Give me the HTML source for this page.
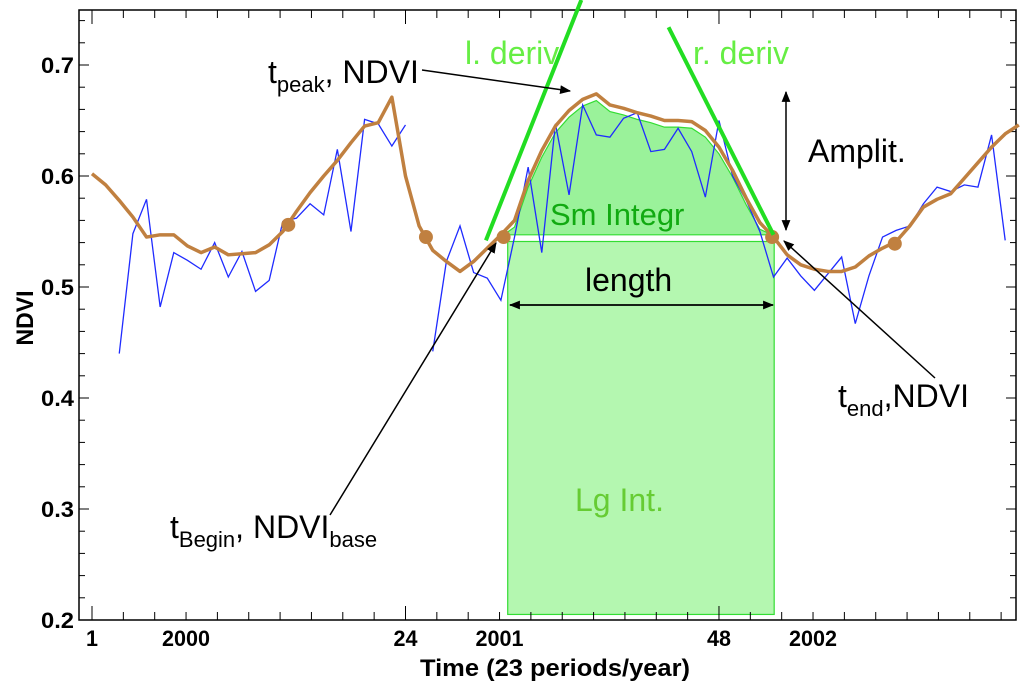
<!DOCTYPE html>
<html><head><meta charset="utf-8">
<style>
html,body{margin:0;padding:0;background:#fff;}
svg{display:block;font-family:"Liberation Sans",Arial,sans-serif;}
</style></head>
<body>
<svg id="chart" width="1024" height="689" viewBox="0 0 1024 689" xmlns="http://www.w3.org/2000/svg">
<g id="fills"></g>
<g id="axes"></g>
<g id="series"></g>
<g id="annot"></g>
</svg>
<script>
const periods = [];
for (let i = 1; i <= 69; i++) periods.push(i);
const rawNdvi = [0.645,null,0.44,0.548,0.579,0.482,0.531,0.524,0.516,0.540,0.509,0.532,0.496,0.506,0.559,0.562,0.575,0.565,0.624,0.550,0.651,0.647,0.627,0.646,null,0.442,0.523,0.555,0.513,0.508,0.488,0.545,0.608,0.531,0.647,0.583,0.664,0.637,0.635,0.652,0.657,0.622,0.624,0.643,0.622,0.581,0.650,0.600,0.578,0.550,0.509,0.526,0.510,0.497,0.512,0.527,0.467,0.510,0.545,0.551,0.555,0.575,0.590,0.586,0.592,0.590,0.637,0.542,null];
const smoothNdvi = [0.602,0.592,0.578,0.563,0.545,0.547,0.547,0.537,0.531,0.536,0.529,0.530,0.531,0.538,0.550,0.568,0.585,0.600,0.614,0.630,0.645,0.648,0.671,0.600,0.555,0.533,0.523,0.514,0.523,0.535,0.547,0.560,0.596,0.623,0.645,0.659,0.669,0.674,0.664,0.661,0.657,0.654,0.650,0.650,0.649,0.641,0.626,0.605,0.580,0.558,0.545,0.529,0.520,0.516,0.514,0.514,0.518,0.528,0.535,0.541,0.555,0.572,0.579,0.584,0.598,0.612,0.626,0.638,0.646];
const markerT = [15.4, 25.5, 31.2, 50.9, 59.9];
const markerV = [0.556, 0.545, 0.545, 0.545, 0.539];
const seasonStart = 31.2, seasonEnd = 50.9, baseLevel = 0.547, lgBase = 0.541, lgBottom = 0.205;
const yTicks = [0.2,0.3,0.4,0.5,0.6,0.7];
const xTickLabels = ["1","2000","24","2001","48","2002"];
const xTickLabelIdx = [0,3,10,13,20,23];

const L=79,R=1016,T=10,B=620;
function x(t){return 92+(t-1)*13.63;}
function y(v){return 65+(0.7-v)*1110;}
const NS="http://www.w3.org/2000/svg";
function mk(tag,attrs,parent,text){const e=document.createElementNS(NS,tag);for(const k in attrs)e.setAttribute(k,attrs[k]);if(text!==undefined)e.textContent=text;parent.appendChild(e);return e;}
const axes=document.getElementById('axes'),fills=document.getElementById('fills'),series=document.getElementById('series'),annot=document.getElementById('annot');

let lg=mk('rect',{x:x(seasonStart+0.3),y:y(lgBase),width:x(seasonEnd+0.15)-x(seasonStart+0.3),height:y(lgBottom)-y(lgBase),fill:'#b4f7b0',stroke:'#33dd33','stroke-width':1.2},fills);


let pts=[[x(seasonStart),y(baseLevel)]];
for(let i=0;i<periods.length;i++){const t=periods[i];if(t>seasonStart&&t<seasonEnd)pts.push([x(t),y(smoothNdvi[i]-0.006)]);}
pts.push([x(seasonEnd),y(baseLevel)]);
let sm=mk('polygon',{points:pts.map(p=>p.join(',')).join(' '),fill:'#9af29a',stroke:'#33dd33','stroke-width':1.2},fills);



mk('rect',{x:L,y:T,width:R-L,height:B-T,fill:'none',stroke:'#000','stroke-width':1.5},axes);
for(let v=0.2;v<=0.751;v+=0.02){const yy=y(v);const major=Math.abs(v*10-Math.round(v*10))<0.01;const len=major?10:6;
 mk('line',{x1:L,x2:L+len,y1:yy,y2:yy,stroke:'#000','stroke-width':1},axes);
 mk('line',{x1:R,x2:R-len,y1:yy,y2:yy,stroke:'#000','stroke-width':1},axes);}
for(let i=0;i<30;i++){const xx=x(1+i*2.3);if(xx>R)break;const len=(i%10===0)?14:8;
 mk('line',{x1:xx,x2:xx,y1:B,y2:B-len,stroke:'#000','stroke-width':1},axes);
 mk('line',{x1:xx,x2:xx,y1:T,y2:T+len,stroke:'#000','stroke-width':1},axes);}
yTicks.forEach(v=>{const e=mk('text',{x:74,y:y(v)+8,'text-anchor':'end','font-size':22,'font-weight':'bold',textLength:33,lengthAdjust:'spacingAndGlyphs'},axes,v.toFixed(1));
 
 });
xTickLabels.forEach((s,i)=>{const w=s.length*12;const e=mk('text',{x:x(1+xTickLabelIdx[i]*2.3),y:646,'text-anchor':'middle','font-size':22,'font-weight':'bold',textLength:w,lengthAdjust:'spacingAndGlyphs'},axes,s);
 
 });
let xt=mk('text',{x:555,y:676,'text-anchor':'middle','font-size':24,'font-weight':'bold',textLength:270,lengthAdjust:'spacingAndGlyphs'},axes,'Time (23 periods/year)');


let yt=mk('text',{x:0,y:0,'text-anchor':'middle','font-size':24,'font-weight':'bold',textLength:55,lengthAdjust:'spacingAndGlyphs',transform:'translate(33,318) rotate(-90)'},axes,'NDVI');



let segs=[],cur=[];
rawNdvi.forEach((v,i)=>{if(v===null){if(cur.length)segs.push(cur);cur=[];}else cur.push(x(periods[i])+','+y(v));});
if(cur.length)segs.push(cur);
segs.forEach(s=>{const p=mk('polyline',{points:s.join(' '),fill:'none',stroke:'#1f2bff','stroke-width':1.3},series);
 
 });
let sp=mk('polyline',{points:smoothNdvi.map((v,i)=>x(periods[i])+','+y(v)).join(' '),fill:'none',stroke:'#c08040','stroke-width':3.5,'stroke-linejoin':'round'},series);


markerT.forEach((t,i)=>{const c=mk('circle',{cx:x(t),cy:y(markerV[i]),r:7,fill:'#c08040'},series);
 
 });

let ld=mk('line',{x1:x(29.9),y1:y(0.542),x2:x(36.9),y2:y(0.7586),stroke:'#22dd22','stroke-width':4},annot);


let rd=mk('line',{x1:x(43.3),y1:y(0.734),x2:x(51),y2:y(0.547),stroke:'#22dd22','stroke-width':4},annot);


</script>
<svg style="position:absolute;left:0;top:0" width="1024" height="689" xmlns="http://www.w3.org/2000/svg">
<defs><marker id="ah2" viewBox="0 0 10 10" refX="9" refY="5" markerWidth="11" markerHeight="11" markerUnits="userSpaceOnUse" orient="auto-start-reverse"><path d="M0,1 L10,5 L0,9 z" fill="#000"/></marker></defs>
<g font-family="Liberation Sans, Arial, sans-serif" font-size="32">
<text x="268" y="83">t<tspan font-size="22" dy="9">peak</tspan><tspan dy="-9">, NDVI</tspan></text>
<line x1="422" y1="70" x2="570" y2="91" stroke="#000" stroke-width="1.5" marker-end="url(#ah2)"/>
<text x="465" y="64" fill="#66ee44">l. deriv</text>
<text x="693" y="64" fill="#66ee44">r. deriv</text>
<line x1="786" y1="92" x2="786" y2="230" stroke="#000" stroke-width="1.5" marker-start="url(#ah2)" marker-end="url(#ah2)"/>
<text x="808" y="162">Amplit.</text>
<text x="550" y="225" fill="#11aa11" font-size="31">Sm Integr</text>
<text x="585" y="291">length</text>
<line x1="510" y1="305" x2="773" y2="305" stroke="#000" stroke-width="1.8" marker-start="url(#ah2)" marker-end="url(#ah2)"/>
<text x="575" y="511" fill="#66cc33">Lg Int.</text>
<text x="170" y="538">t<tspan font-size="22" dy="9">Begin</tspan><tspan dy="-9">, NDVI</tspan><tspan font-size="22" dy="9">base</tspan></text>
<line x1="330" y1="515" x2="496" y2="243" stroke="#000" stroke-width="1.5" marker-end="url(#ah2)"/>
<text x="838" y="407">t<tspan font-size="22" dy="9">end</tspan><tspan dy="-9">,NDVI</tspan></text>
<line x1="935" y1="378" x2="784" y2="241" stroke="#000" stroke-width="1.5" marker-end="url(#ah2)"/>
</g>
</svg>
</body></html>
